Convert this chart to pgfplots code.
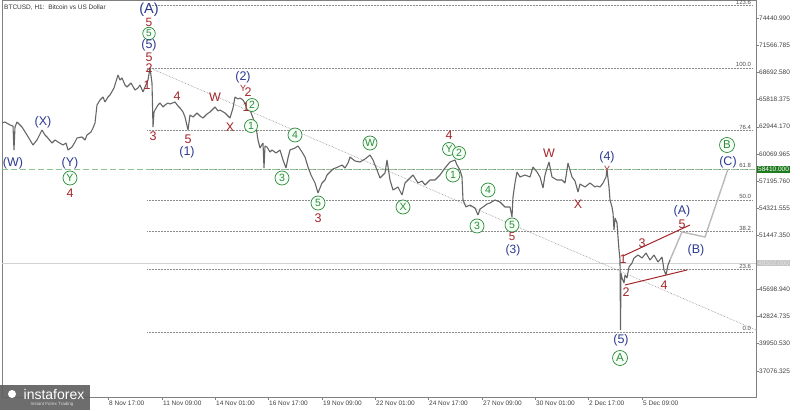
\documentclass[border=0pt]{standalone}
\usepackage{fontspec}
\setmainfont{Liberation Sans}
\usepackage{pgfplots}
\pgfplotsset{compat=1.18}
\definecolor{wnavy}{HTML}{2B3990}
\definecolor{wred}{HTML}{A3262A}
\definecolor{wgreen}{HTML}{2E8B3E}
\definecolor{pricegray}{HTML}{656565}
\definecolor{fibgray}{HTML}{8C8C8C}
\definecolor{lvlgreen}{HTML}{8DC48D}
\definecolor{boxgreen}{HTML}{1E7B1E}
% wave label: style, x (bar position), y (screen row), text
\newcommand\wv[4]{\node[#1] at (axis cs:#2,{76380-106*#3}) {#4};}
\begin{document}
\begin{tikzpicture}[
  nv/.style={text=wnavy, inner sep=0pt, font=\fontsize{12.5}{12.5}\selectfont},
  rd/.style={text=wred, inner sep=0pt, font=\fontsize{12.5}{12.5}\selectfont},
  sm/.style={font=\fontsize{9}{9}\selectfont},
  big/.style={font=\fontsize{14.5}{14.5}\selectfont},
  gc/.style={circle, draw=wgreen, fill=green!4, text=wgreen, inner sep=0pt,
    minimum size=14pt, line width=0.7pt, font=\fontsize{10.5}{10.5}\selectfont},
  fib/.style={anchor=south east, inner sep=0.8pt, text=black!70,
    font=\fontsize{6}{6}\selectfont},
]
\path[use as bounding box] (-2pt,-13pt) rectangle (798pt,397pt);
\begin{axis}[
  at={(0,0)}, anchor=south west,
  scale only axis, width=754pt, height=397pt,
  xmin=2, xmax=756, ymin=34298, ymax=76380,
  clip=false, scaled y ticks=false, scaled x ticks=false,
  axis line style={gray, line width=0.5pt},
  tick style={gray, line width=0.4pt},
  major tick length=3pt, tick align=outside,
  xtick pos=bottom, ytick pos=right, yticklabel pos=right,
  tick label style={font=\fontsize{6.5}{7}\selectfont, text=black!75},
  xtick={55,108,162,215,268,322,375,428,482,535,588,642},
  xticklabels={{}, 8 Nov 17:00, 11 Nov 09:00, 14 Nov 01:00,
    16 Nov 17:00, 19 Nov 09:00, 22 Nov 01:00, 24 Nov 17:00,
    27 Nov 09:00, 30 Nov 01:00, 2 Dec 17:00, 5 Dec 09:00},
  xticklabel style={anchor=north west, inner sep=0pt, xshift=1pt, yshift=-1pt},
  ytick={37076.325,39950.530,42824.735,45698.940,51447.350,54321.555,
    57195.760,60069.965,62944.170,65818.375,68692.580,71566.785,74440.990},
  yticklabels={37076.325,39950.530,42824.735,45698.940,51447.350,54321.555,
    57195.760,60069.965,62944.170,65818.375,68692.580,71566.785,74440.990},
  yticklabel style={anchor=west, inner sep=0pt, xshift=0pt},
]
% fibonacci levels
\addplot[fibgray, densely dotted, line width=0.5pt] coordinates {(147,75773) (752,75773)};
\addplot[fibgray, densely dotted, line width=0.5pt] coordinates {(147,69170) (752,69170)};
\addplot[fibgray, densely dotted, line width=0.5pt] coordinates {(147,62567) (752,62567)};
\addplot[fibgray, densely dotted, line width=0.5pt] coordinates {(147,58482) (752,58482)};
\addplot[fibgray, densely dotted, line width=0.5pt] coordinates {(147,55180) (752,55180)};
\addplot[fibgray, densely dotted, line width=0.5pt] coordinates {(147,51878) (752,51878)};
\addplot[fibgray, densely dotted, line width=0.5pt] coordinates {(147,47793) (752,47793)};
\addplot[fibgray, densely dotted, line width=0.5pt] coordinates {(147,41190) (752,41190)};
\node[fib] at (axis cs:752,75773) {123.6};
\node[fib] at (axis cs:752,69170) {100.0};
\node[fib] at (axis cs:752,62567) {76.4};
\node[fib] at (axis cs:752,58482) {61.8};
\node[fib] at (axis cs:752,55180) {50.0};
\node[fib] at (axis cs:752,51878) {38.2};
\node[fib] at (axis cs:752,47793) {23.6};
\node[fib] at (axis cs:752,41190) {0.0};
% level and current price
\addplot[lvlgreen, dash pattern=on 6pt off 3pt, line width=0.8pt] coordinates {(2,58410) (756,58410)};
\addplot[gray!35, line width=0.6pt] coordinates {(2,48502) (756,48502)};
% trend line
\addplot[fibgray, densely dotted, line width=0.6pt] coordinates {(150,69172) (756,41400)};
% price (H1 close)
\addplot[pricegray, line width=1.1pt, line join=bevel] coordinates {
(2,63342) (5,63448) (10,63130) (13,63024) (14,60480) (15,62918) (17,63448)
(22,62918) (27,62070) (30,61540) (33,61010) (37,61540) (42,62600) (45,62070)
(47,61858) (52,61222) (55,61540) (58,61328) (63,61010) (66,61222) (68,60480)
(72,60798) (75,61328) (77,61752) (82,61858) (85,61540) (87,62070) (91,62388)
(93,62812) (95,63342) (97,65250) (100,65780) (103,66098) (105,65568) (108,66098)
(110,66310) (114,67052) (118,68430) (120,67900) (122,68112) (125,67370) (127,67158)
(131,67582) (135,66840) (138,67052) (140,67370) (143,66628) (145,67158) (148,67900)
(150,69172) (152,67582) (153,62918) (154,64508) (155,64720) (158,65250) (160,65462)
(163,65038) (165,65250) (168,65462) (170,65356) (175,65568) (178,65144) (180,64932)
(183,64508) (185,63978) (188,62600) (190,64190) (193,63978) (197,64402) (200,64084)
(203,63872) (207,64296) (210,64508) (215,65038) (218,64614) (220,64720) (225,64402)
(228,64084) (230,63872) (233,64932) (235,66098) (238,65886) (240,65992) (243,65780)
(246,65250) (250,64720) (253,63872) (256,62918) (258,61540) (260,60692) (263,61222)
(264,58572) (265,60904) (267,60798) (270,60268) (272,60480) (276,60162) (280,60480)
(283,59420) (286,58572) (288,59632) (290,60480) (295,60692) (298,60904) (302,60268)
(305,59738) (308,58678) (311,57830) (315,56982) (318,55922) (322,56982) (325,57300)
(327,57830) (330,58148) (333,58466) (338,58678) (342,58890) (345,58572) (348,59102)
(350,59738) (355,59314) (360,59208) (365,59526) (370,59950) (373,59420) (377,58360)
(380,57512) (383,57830) (385,58042) (387,59420) (390,57300) (393,56240) (398,56558)
(402,55710) (405,56982) (410,57512) (413,57830) (418,56982) (422,57194) (425,56770)
(430,57300) (435,57300) (440,57830) (445,58572) (450,59208) (455,59420) (457,58890)
(460,58360) (462,57618) (463,55180) (466,54438) (470,54650) (475,54332) (478,53590)
(480,54226) (483,54438) (487,54756) (490,54862) (495,55180) (500,54968) (505,54438)
(510,54438) (512,53378) (513,55498) (515,56982) (517,58148) (520,57618) (525,57830)
(530,57618) (533,58678) (537,58148) (540,57618) (543,56452) (545,57830) (547,58572)
(549,59208) (552,57618) (557,57300) (562,57300) (565,56982) (568,59102) (572,57618)
(575,57194) (578,56028) (580,56876) (585,56558) (590,56982) (595,56558) (597,56664)
(600,56558) (603,56982) (606,57618) (607,58360) (609,56558) (610,55180) (612,54438)
(613,53802) (614,51998) (615,53272) (617,52742) (618,51258) (619,49880) (620,48820)
(620.5,41400) (621,47442) (622,46912) (624,46382) (625,47230) (627,46912) (629,48078)
(632,48502) (634,49032) (638,49350) (642,49032) (646,49562) (650,48820) (654,49350)
(658,48608) (662,49138) (664,47760) (666,47230) (668,48290) (670,48820)
};
% projected path
\addplot[gray!55, line width=1.4pt] coordinates {(670,48820) (682,51788) (705,51258) (728,58466)};
% wedge
\addplot[wred, line width=1pt] coordinates {(623,49244) (690,52530)};
\addplot[wred, line width=1pt] coordinates {(625,46170) (687,47760)};
% price boxes on the right
\node[fill=boxgreen, text=white, anchor=west, inner sep=1pt, font=\fontsize{6.5}{7}\selectfont] at (axis cs:757,58410) {58410.000};
\node[fill=gray!45, text=gray!22, anchor=west, inner sep=1pt, font=\fontsize{6.5}{7}\selectfont] at (axis cs:757,48502) {48502.000};
% title
\node[anchor=north west, inner sep=0pt, text=black!80, font=\fontsize{6.5}{7}\selectfont] at (axis cs:4,75850) {BTCUSD, H1:\ \ Bitcoin vs US Dollar};
% wave labels
\wv{nv,big}{149}{10}{(A)}
\wv{rd,font=\fontsize{12}{12}\selectfont}{149}{22.5}{5}
\wv{gc,minimum size=12.5pt,font=\fontsize{10}{10}\selectfont}{149}{33.5}{5}
\wv{nv}{149}{45.5}{(5)}
\wv{rd}{149}{57}{5}
\wv{rd}{149}{68}{2}
\wv{rd}{147}{85}{1}
\wv{rd}{153}{136}{3}
\wv{rd}{177}{96}{4}
\wv{rd}{188}{139}{5}
\wv{nv}{187}{152}{(1)}
\wv{rd}{215}{97}{W}
\wv{rd}{230}{127}{X}
\wv{nv}{243}{77}{(2)}
\wv{rd,sm}{243}{88}{Y}
\wv{rd}{248}{92}{2}
\wv{gc,minimum size=13pt}{252}{105}{2}
\wv{rd}{246}{107}{1}
\wv{gc,minimum size=13pt}{251}{126}{1}
\wv{gc}{295}{135}{4}
\wv{gc}{282}{178}{3}
\wv{gc}{318}{203}{5}
\wv{rd}{318}{218}{3}
\wv{nv}{13}{163}{(W)}
\wv{nv}{43}{122}{(X)}
\wv{nv}{70}{163}{(Y)}
\wv{gc}{70}{178}{Y}
\wv{rd}{70}{193}{4}
\wv{gc}{370}{143}{W}
\wv{gc}{403}{207}{X}
\wv{rd}{449}{135}{4}
\wv{gc,minimum size=13pt}{449}{149}{Y}
\wv{gc,minimum size=13pt}{459}{153}{2}
\wv{gc}{453}{175}{1}
\wv{gc}{488}{190}{4}
\wv{gc}{477}{226}{3}
\wv{gc}{512}{225}{5}
\wv{rd,font=\fontsize{11.5}{11.5}\selectfont}{512}{237}{5}
\wv{nv,font=\fontsize{12}{12}\selectfont}{513}{250}{(3)}
\wv{rd}{549}{153}{W}
\wv{rd}{578}{204}{X}
\wv{nv}{607}{157}{(4)}
\wv{rd,sm}{607}{169}{Y}
\wv{nv}{682}{211}{(A)}
\wv{rd}{682}{224}{5}
\wv{rd}{642}{243}{3}
\wv{rd}{623}{259}{1}
\wv{rd}{626}{292}{2}
\wv{rd}{664}{285}{4}
\wv{nv}{696}{250}{(B)}
\wv{gc,minimum size=15pt,font=\fontsize{11.5}{11.5}\selectfont}{727}{145}{B}
\wv{nv}{728}{162}{(C)}
\wv{nv}{621}{340}{(5)}
\wv{gc,minimum size=15pt,font=\fontsize{11.5}{11.5}\selectfont}{620}{358}{A}
\end{axis}
% logo
\fill[black!62, opacity=0.92] (-2pt,-13pt) rectangle (88pt,12pt);
\fill[white] (10pt,3pt) circle (4pt);
\node[text=white, inner sep=0pt, font=\fontsize{14}{14}\selectfont] at (52pt,3pt) {instaforex};
\node[text=white!85!black, inner sep=0pt, font=\fontsize{4.5}{5}\selectfont] at (50pt,-7pt) {Instant Forex Trading};
\end{tikzpicture}
\end{document}
